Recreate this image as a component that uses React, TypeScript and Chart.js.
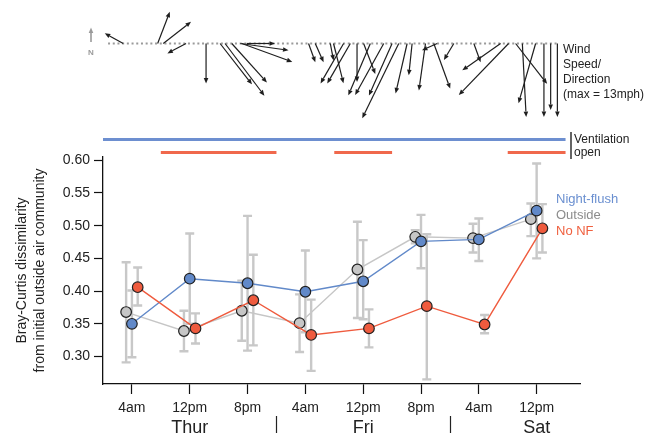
import React, { useEffect, useRef } from "react";
import { Chart, registerables } from "chart.js";

Chart.register(...registerables);

// ---------- data ----------
const timeTicks = [4, 12, 20, 28, 36, 44, 52, 60]; // hours since Thu 00:00
const timeTickLabels = ["4am", "12pm", "8pm", "4am", "12pm", "8pm", "4am", "12pm"];
const dayNames = ["Thur", "Fri", "Sat"];
const dayCenters = [12, 36, 60];
const daySeparators = [24, 48];
const yTicks = [0.3, 0.35, 0.4, 0.45, 0.5, 0.55, 0.6];

const nightFlush = [0.35, 0.419, 0.412, 0.399, 0.415, 0.476, 0.479, 0.523];
const nightFlushLow = [0.299, 0.35, 0.309, 0.337, 0.357, 0.435, 0.446, 0.45];
const nightFlushHigh = [0.401, 0.488, 0.515, 0.462, 0.478, 0.5165, 0.511, 0.595];

const outside = [0.368, 0.339, 0.37, 0.351, 0.433, 0.483, 0.481, 0.51];
const outsideLow = [0.291, 0.308, 0.324, 0.307, 0.359, 0.473, 0.459, 0.484];
const outsideHigh = [0.444, 0.37, 0.416, 0.395, 0.506, 0.493, 0.503, 0.534];

const noNF = [0.406, 0.343, 0.386, 0.333, 0.343, 0.377, 0.349, 0.496];
const noNFLow = [0.378, 0.32, 0.317, 0.278, 0.314, 0.265, 0.3355, 0.459];
const noNFHigh = [0.436, 0.366, 0.4555, 0.387, 0.372, 0.487, 0.3635, 0.533];

// ventilation periods (hours)
const ventNightFlush = [[0, 64]];
const ventNoNF = [[8, 24], [32, 40], [56, 64]];

// wind: hour, speed (mph), direction the arrow points (deg clockwise from north)
const windHours = [2.8, 7.56, 8.34, 11.49, 14.26, 16.2, 16.89, 17.82, 19.0, 19.2, 19.9,
  28.44, 29.37, 31.45, 31.9, 33.29, 34.22, 35.15, 36.06, 36.99, 38.84, 40.0, 40.92, 42.08,
  42.77, 44.62, 45.77, 46.24, 48.54, 51.31, 55.01, 56.12, 57.09, 58.02, 59.86, 61.01, 61.94, 62.87];
const windSpeed = [3.3, 5.3, 5.5, 3.3, 6.25, 8.1, 10.2, 8.2, 7.6, 8.4, 4.4,
  3.1, 3.2, 2.7, 6.4, 7.2, 7.2, 6.0, 5.1, 8.8, 9.2, 8.9, 13.0, 8.0,
  5.0, 7.4, 7.5, 2.6, 3.0, 3.1, 7.3, 11.2, 8.0, 11.5, 9.7, 11.5, 10.4, 11.5];
const windDir = [299, 21, 52, 242, 180, 142, 143, 138, 98, 110, 90,
  160, 156, 169, 166, 210, 210, 180, 159, 203, 209, 204, 206, 193,
  186, 188, 160, 246, 211, 160, 235, 224, 142, 177, 196, 180, 180, 180];

// ---------- styling ----------
const FONT = "'Liberation Sans', Arial, Helvetica, sans-serif";
const BLUE = "#6189c9";
const RED = "#ef5b3e";
const GRAY = "#c6c6c6";
const ERR = "#c8c8c8";
const DODGE = 0.8;

function drawArrow(ctx: CanvasRenderingContext2D, x0: number, y0: number, x1: number, y1: number) {
  const head = 5.5, halfW = 2.3;
  const ang = Math.atan2(y1 - y0, x1 - x0);
  const bx = x1 - Math.cos(ang) * head, by = y1 - Math.sin(ang) * head;
  ctx.beginPath();
  ctx.moveTo(x0, y0);
  ctx.lineTo(bx, by);
  ctx.stroke();
  ctx.beginPath();
  ctx.moveTo(x1, y1);
  ctx.lineTo(bx - Math.sin(ang) * halfW, by + Math.cos(ang) * halfW);
  ctx.lineTo(bx + Math.sin(ang) * halfW, by - Math.cos(ang) * halfW);
  ctx.closePath();
  ctx.fill();
}

const errorSeries = [
  { off: -DODGE, low: outsideLow, high: outsideHigh },
  { off: 0, low: nightFlushLow, high: nightFlushHigh },
  { off: DODGE, low: noNFLow, high: noNFHigh },
];

const extrasPlugin = {
  id: "extras",
  beforeDatasetsDraw(chart: any) {
    const ctx: CanvasRenderingContext2D = chart.ctx;
    const xs = chart.scales.x, ys = chart.scales.y;
    ctx.save();
    ctx.strokeStyle = ERR;
    ctx.lineWidth = 2.4;
    errorSeries.forEach((s) => {
      timeTicks.forEach((t, i) => {
        const px = xs.getPixelForValue(t + s.off);
        const lo = ys.getPixelForValue(s.low[i]);
        const hi = ys.getPixelForValue(s.high[i]);
        ctx.beginPath();
        ctx.moveTo(px, lo); ctx.lineTo(px, hi);
        ctx.moveTo(px - 4.5, lo); ctx.lineTo(px + 4.5, lo);
        ctx.moveTo(px - 4.5, hi); ctx.lineTo(px + 4.5, hi);
        ctx.stroke();
      });
    });
    ctx.restore();
  },
  afterDraw(chart: any) {
    const ctx: CanvasRenderingContext2D = chart.ctx;
    const xs = chart.scales.x;
    const area = chart.chartArea;
    ctx.save();

    // ---- wind ----
    const baseY = 43.5;
    const pxPerMph = 6.4;
    ctx.strokeStyle = "#9a9a9a";
    ctx.lineWidth = 2;
    ctx.setLineDash([2, 2.7]);
    ctx.beginPath();
    ctx.moveTo(xs.getPixelForValue(0.7), baseY);
    ctx.lineTo(xs.getPixelForValue(63.1), baseY);
    ctx.stroke();
    ctx.setLineDash([]);

    ctx.strokeStyle = "#1e1e1e";
    ctx.fillStyle = "#1e1e1e";
    ctx.lineWidth = 1.2;
    windHours.forEach((h, i) => {
      const x0 = xs.getPixelForValue(h);
      const len = windSpeed[i] * pxPerMph;
      const r = (windDir[i] * Math.PI) / 180;
      drawArrow(ctx, x0, baseY, x0 + Math.sin(r) * len, baseY - Math.cos(r) * len);
    });

    // north indicator
    const nx = area.left - 12;
    ctx.strokeStyle = "#9a9a9a";
    ctx.fillStyle = "#9a9a9a";
    ctx.lineWidth = 1.6;
    drawArrow(ctx, nx, 42, nx, 27.5);
    ctx.font = `bold 8px ${FONT}`;
    ctx.textAlign = "center";
    ctx.textBaseline = "middle";
    ctx.fillText("N", nx, 52.5);

    // wind caption
    ctx.fillStyle = "#222";
    ctx.font = `12px ${FONT}`;
    ctx.textAlign = "left";
    ["Wind", "Speed/", "Direction", "(max = 13mph)"].forEach((s, i) => {
      ctx.fillText(s, 563, 50 + i * 15);
    });

    // ---- ventilation ----
    ctx.lineWidth = 3;
    ctx.strokeStyle = "#6d8fd0";
    ventNightFlush.forEach(([a, b]) => {
      ctx.beginPath();
      ctx.moveTo(xs.getPixelForValue(a), 139.5);
      ctx.lineTo(xs.getPixelForValue(b), 139.5);
      ctx.stroke();
    });
    ctx.strokeStyle = "#f0684c";
    ventNoNF.forEach(([a, b]) => {
      ctx.beginPath();
      ctx.moveTo(xs.getPixelForValue(a), 152.5);
      ctx.lineTo(xs.getPixelForValue(b), 152.5);
      ctx.stroke();
    });
    ctx.strokeStyle = "#111";
    ctx.lineWidth = 1.3;
    ctx.beginPath();
    ctx.moveTo(571, 132);
    ctx.lineTo(571, 159);
    ctx.stroke();
    ctx.fillStyle = "#222";
    ctx.font = `12px ${FONT}`;
    ctx.fillText("Ventilation", 574, 139.5);
    ctx.fillText("open", 574, 153);

    // ---- legend ----
    ctx.font = `13px ${FONT}`;
    const legend = [["Night-flush", "#6a8fd0"], ["Outside", "#8c8c8c"], ["No NF", "#f0603f"]];
    legend.forEach(([s, c], i) => {
      ctx.fillStyle = c;
      ctx.fillText(s, 556, 199 + i * 16);
    });

    // ---- day labels ----
    ctx.fillStyle = "#222";
    ctx.font = `18px ${FONT}`;
    ctx.textAlign = "center";
    ctx.textBaseline = "alphabetic";
    dayNames.forEach((d, i) => ctx.fillText(d, xs.getPixelForValue(dayCenters[i]), 432.5));
    ctx.strokeStyle = "#222";
    ctx.lineWidth = 1.2;
    daySeparators.forEach((h) => {
      const px = Math.round(xs.getPixelForValue(h)) + 0.5;
      ctx.beginPath();
      ctx.moveTo(px, 416);
      ctx.lineTo(px, 433);
      ctx.stroke();
    });

    ctx.restore();
  },
};

function makeSeries(label: string, values: number[], off: number, color: string, order: number) {
  return {
    label,
    data: timeTicks.map((t, i) => ({ x: t + off, y: values[i] })),
    borderColor: color,
    backgroundColor: color,
    pointBackgroundColor: color,
    pointBorderColor: "#222",
    pointBorderWidth: 1.2,
    pointRadius: 5.3,
    borderWidth: 1.4,
    tension: 0,
    order,
  };
}

export default function App() {
  const ref = useRef<HTMLCanvasElement | null>(null);

  useEffect(() => {
    if (!ref.current) return;
    const chart = new Chart(ref.current, {
      type: "line",
      data: {
        datasets: [
          makeSeries("No NF", noNF, DODGE, RED, 1),
          makeSeries("Night-flush", nightFlush, 0, BLUE, 2),
          makeSeries("Outside", outside, -DODGE, GRAY, 3),
        ],
      },
      options: {
        responsive: false,
        animation: false,
        devicePixelRatio: window.devicePixelRatio || 1,
        layout: { padding: { top: 157, left: 0, right: 79, bottom: 0 } },
        plugins: { legend: { display: false }, tooltip: { enabled: false } },
        scales: {
          x: {
            type: "linear",
            min: 0,
            max: 66,
            afterBuildTicks: (scale: any) => {
              scale.ticks = timeTicks.map((v) => ({ value: v }));
            },
            afterFit: (scale: any) => {
              scale.height = 51;
            },
            ticks: {
              autoSkip: false,
              maxRotation: 0,
              padding: 6,
              color: "#222",
              font: { family: FONT, size: 14 },
              callback: (_v: any, i: number) => timeTickLabels[i],
            },
            grid: { drawOnChartArea: false, drawTicks: true, tickLength: 10, color: "#111", tickWidth: 1.2 },
            border: { display: true, color: "#111", width: 1.3 },
          },
          y: {
            type: "linear",
            min: 0.258,
            max: 0.605,
            afterBuildTicks: (scale: any) => {
              scale.ticks = yTicks.map((v) => ({ value: v }));
            },
            afterFit: (scale: any) => {
              scale.width = 103;
            },
            ticks: {
              padding: 4,
              color: "#222",
              font: { family: FONT, size: 14 },
              callback: (v: any) => Number(v).toFixed(2),
            },
            grid: { drawOnChartArea: false, drawTicks: true, tickLength: 9, color: "#111", tickWidth: 1.2 },
            border: { display: true, color: "#111", width: 1.3 },
            title: {
              display: true,
              text: ["Bray-Curtis dissimilarity", "from initial outside air community"],
              color: "#222",
              font: { family: FONT, size: 14, lineHeight: 18 / 14 },
              padding: { top: 13, bottom: 0 },
            },
          },
        },
      },
      plugins: [extrasPlugin],
    } as any);
    return () => chart.destroy();
  }, []);

  return (
    <div style={{ position: "fixed", left: 0, top: 0, width: 659, height: 435, background: "#fff" }}>
      <canvas ref={ref} width={659} height={435} style={{ width: 659, height: 435, display: "block" }} />
    </div>
  );
}
